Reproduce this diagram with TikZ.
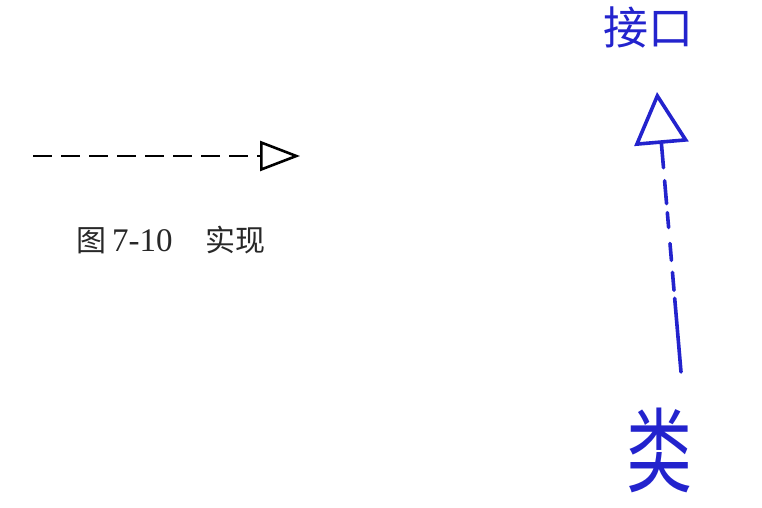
\documentclass[tikz,border=0pt]{standalone}
\usepackage{fontspec}
\setmainfont{Liberation Serif}
\newfontfamily\cjk{Noto Sans CJK SC}
\usetikzlibrary{arrows.meta}
\definecolor{handblue}{RGB}{35,35,205}
\definecolor{captext}{RGB}{40,40,40}
\tikzset{
  printline/.style={line width=2.6pt, black, dash pattern=on 19pt off 9pt},
  handline/.style={line width=3.6pt, handblue, line cap=round, line join=round},
  handtext/.style={text=handblue, inner sep=0pt},
}
\begin{document}
\begin{tikzpicture}[x=1pt,y=-1pt]
\useasboundingbox (0,0) rectangle (762,508);
% printed example
\coordinate (pA) at (33,156);
\coordinate (pB) at (300,156);
\draw[printline, -{Triangle[open,length=40pt,width=30pt,line width=2.6pt]}] (pA) -- (pB);
\node[anchor=base west, text=captext, inner sep=0pt] (cap) at (76,251)
  {\fontsize{30}{32}\selectfont\cjk 图\hspace{6pt}{\rmfamily\fontsize{33}{35}\selectfont 7-10}\hspace{33pt}实现};
% handwritten sketch
\node[handtext] (ifc) at (648,27) {\fontsize{45}{47}\selectfont\cjk 接口};
\node[handtext] (cls) at (659,450) {\scalebox{1}[1.4]{\fontsize{66}{70}\selectfont\cjk 类}};
\coordinate (hTail) at (681,372);
\coordinate (hTip) at (657,92);
\draw[handline, dash pattern=on 74pt off 8pt on 18pt off 12pt on 17pt off 16pt on 15pt off 9pt on 23pt off 13pt on 40pt,
  -{Triangle[open,length=52pt,width=54pt,line width=3.6pt]}] (hTail) -- (hTip);
\end{tikzpicture}
\end{document}
